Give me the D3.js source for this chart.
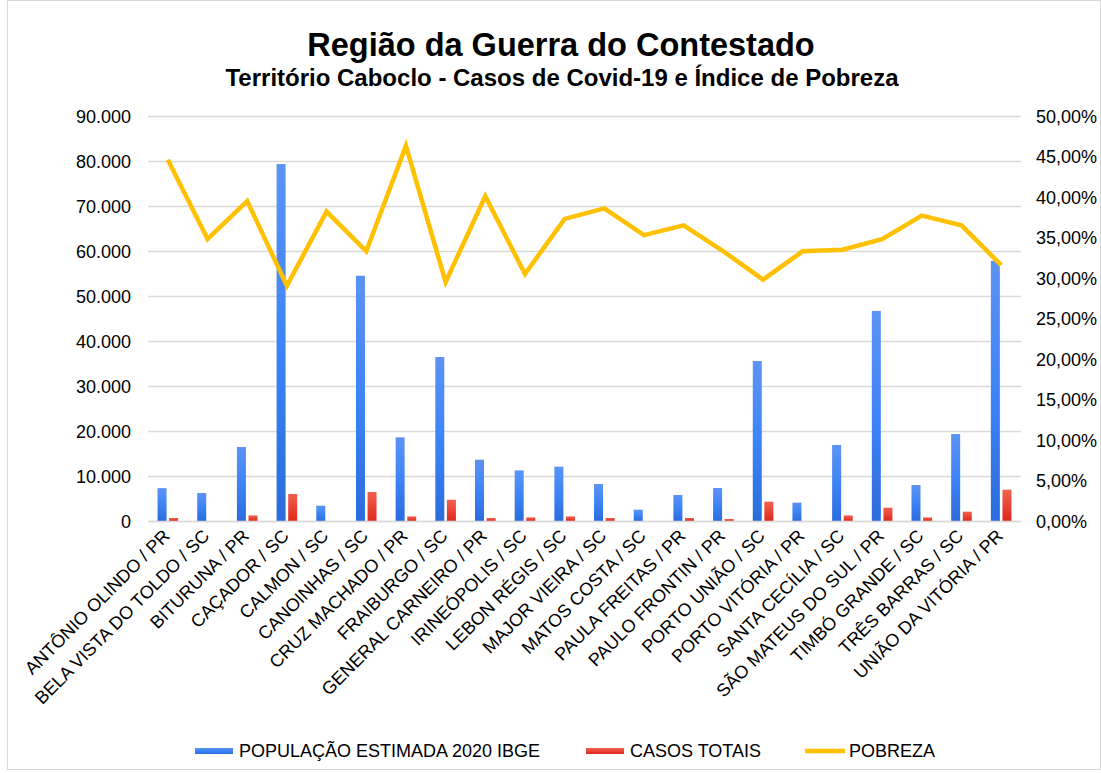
<!DOCTYPE html>
<html>
<head>
<meta charset="utf-8">
<script src="https://cdn.jsdelivr.net/npm/d3@7"></script>
<style>
	body { margin: 0; background: #fff; }
	svg text { font-family: "Liberation Sans", Arial, sans-serif; fill: #000; }
</style>
</head>
<body>
<div id="chart"></div>
<script>
const cidades = [
	"ANTÔNIO OLINDO / PR", "BELA VISTA DO TOLDO / SC", "BITURUNA / PR", "CAÇADOR / SC",
	"CALMON / SC", "CANOINHAS / SC", "CRUZ MACHADO / PR", "FRAIBURGO / SC",
	"GENERAL CARNEIRO / PR", "IRINEÓPOLIS / SC", "LEBON RÉGIS / SC", "MAJOR VIEIRA / SC",
	"MATOS COSTA / SC", "PAULA FREITAS / PR", "PAULO FRONTIN / PR", "PORTO UNIÃO / SC",
	"PORTO VITÓRIA / PR", "SANTA CECÍLIA / SC", "SÃO MATEUS DO SUL / PR", "TIMBÓ GRANDE / SC",
	"TRÊS BARRAS / SC", "UNIÃO DA VITÓRIA / PR"
];
const populacao = [7300, 6220, 16440, 79330, 3400, 54500, 18600, 36440, 13620, 11250, 12070,
	8220, 2510, 5780, 7330, 35550, 4070, 16890, 46670, 8000, 19330, 57800];
const casos = [670, 0, 1240, 6000, 0, 6440, 1030, 4730, 670, 800, 1030,
	670, 0, 670, 440, 4290, 0, 1240, 2960, 800, 2070, 6960];
const pobreza = [0.446, 0.348, 0.395, 0.2905, 0.382, 0.333, 0.463, 0.295, 0.401, 0.305, 0.373,
	0.386, 0.353, 0.365, 0.333, 0.298, 0.333, 0.335, 0.348, 0.377, 0.365, 0.316];
const leftTicks = [0, 10000, 20000, 30000, 40000, 50000, 60000, 70000, 80000, 90000];
const rightTicks = [0, .05, .10, .15, .20, .25, .30, .35, .40, .45, .50];
const legendItems = [
	{label: "POPULAÇÃO ESTIMADA 2020 IBGE", kind: "blue"},
	{label: "CASOS TOTAIS", kind: "red"},
	{label: "POBREZA", kind: "line"}
];

const
	W = 1101, H = 773,
	PLOT_L = 148, PLOT_R = 1021, PLOT_T = 116, PLOT_B = 521,
	BAR_W = 9, GOLD = "#FFC000", GRID = "#d9d9d9";

const br = d3.formatLocale({decimal: ",", thousands: ".", grouping: [3], currency: ["", ""]});

var svg = d3.select("#chart").append("svg")
	.attr("width", W).attr("height", H);

// gradients for the bars
var defs = svg.append("defs");
function grad(id, top, mid, bottom) {
	var g = defs.append("linearGradient").attr("id", id)
		.attr("x1", 0).attr("y1", 0).attr("x2", 0).attr("y2", 1);
	g.append("stop").attr("offset", "0%").attr("stop-color", top);
	g.append("stop").attr("offset", "50%").attr("stop-color", mid);
	g.append("stop").attr("offset", "100%").attr("stop-color", bottom);
}
grad("gBlue", "#5c93f4", "#3d84f6", "#2a6cdc");
grad("gRed", "#f0614f", "#e94535", "#dc2a1c");

svg.append("rect")
	.attr("x", 7.5).attr("y", 0.5).attr("width", W - 8).attr("height", H - 4)
	.attr("fill", "none").attr("stroke", GRID);

var x = d3.scaleBand().domain(cidades).range([PLOT_L, PLOT_R]);
var y = d3.scaleLinear().domain([0, 90000]).range([PLOT_B, PLOT_T]);
var y2 = d3.scaleLinear().domain([0, 0.5]).range([PLOT_B, PLOT_T]);
var cx = function(d) { return x(d) + x.bandwidth() / 2; };

// gridlines + left axis
var yAxis = d3.axisLeft(y).tickValues(leftTicks)
	.tickSize(-(PLOT_R - PLOT_L)).tickPadding(17)
	.tickFormat(br.format(",.0f"));
var gy = svg.append("g").attr("transform", "translate(" + PLOT_L + ",0)").call(yAxis);
gy.select(".domain").remove();
gy.selectAll("line").attr("stroke", GRID).attr("stroke-width", 1.5);
gy.selectAll("text").style("font-size", "18px").attr("dy", "0.35em");

var y2Axis = d3.axisRight(y2).tickValues(rightTicks).tickSize(0).tickPadding(15)
	.tickFormat(br.format(".2%"));
var gy2 = svg.append("g").attr("transform", "translate(" + PLOT_R + ",0)").call(y2Axis);
gy2.select(".domain").remove();
gy2.selectAll("text").style("font-size", "18px").attr("dy", "0.35em");

// bars
svg.append("g").selectAll("rect")
	.data(cidades).enter().append("rect")
	.attr("x", function(d) { return cx(d) - BAR_W - 1.3; })
	.attr("y", function(d, i) { return y(populacao[i]); })
	.attr("width", BAR_W)
	.attr("height", function(d, i) { return PLOT_B - y(populacao[i]); })
	.attr("fill", "url(#gBlue)");

svg.append("g").selectAll("rect")
	.data(cidades).enter().append("rect")
	.attr("x", function(d) { return cx(d) + 1.3; })
	.attr("y", function(d, i) { return y(casos[i]); })
	.attr("width", BAR_W)
	.attr("height", function(d, i) { return PLOT_B - y(casos[i]); })
	.attr("fill", "url(#gRed)");

// pobreza line
var line = d3.line()
	.x(function(d, i) { return cx(cidades[i]); })
	.y(function(d) { return y2(d); });
svg.append("path").datum(pobreza)
	.attr("d", line)
	.attr("fill", "none").attr("stroke", GOLD)
	.attr("stroke-width", 4.5).attr("stroke-linejoin", "miter");

// x axis
var xAxis = d3.axisBottom(x).tickSize(0).tickPadding(0);
var gx = svg.append("g").attr("transform", "translate(0," + PLOT_B + ")").call(xAxis);
gx.select(".domain").attr("stroke", GRID).attr("stroke-width", 1.5);
gx.selectAll("text")
	.style("font-size", "18px")
	.style("text-anchor", "end")
	.attr("dy", 0).attr("y", 0)
	.attr("transform", "translate(3,16) rotate(-45)");

// titles
svg.append("text")
	.attr("x", 561).attr("y", 56)
	.attr("text-anchor", "middle")
	.style("font-size", "32.5px").style("font-weight", "bold")
	.text("Região da Guerra do Contestado");
svg.append("text")
	.attr("x", 562).attr("y", 86)
	.attr("text-anchor", "middle")
	.style("font-size", "24px").style("font-weight", "bold")
	.text("Território Caboclo - Casos de Covid-19 e Índice de Pobreza");

// legend
var legX = [195, 586, 805];
var leg = svg.append("g").selectAll("g")
	.data(legendItems).enter().append("g")
	.attr("transform", function(d, i) { return "translate(" + legX[i] + ",751)"; });
leg.filter(function(d) { return d.kind != "line"; }).append("rect")
	.attr("x", 0).attr("y", -3).attr("width", 38).attr("height", 6)
	.attr("fill", function(d) { return d.kind == "blue" ? "url(#gBlue)" : "url(#gRed)"; });
leg.filter(function(d) { return d.kind == "line"; }).append("line")
	.attr("x1", 0).attr("x2", 40).attr("y1", 0).attr("y2", 0)
	.attr("stroke", GOLD).attr("stroke-width", 4.5);
leg.append("text")
	.attr("x", 44)
	.attr("y", 0).attr("dy", "0.35em")
	.style("font-size", "18px")
	.text(function(d) { return d.label; });
</script>
</body>
</html>
